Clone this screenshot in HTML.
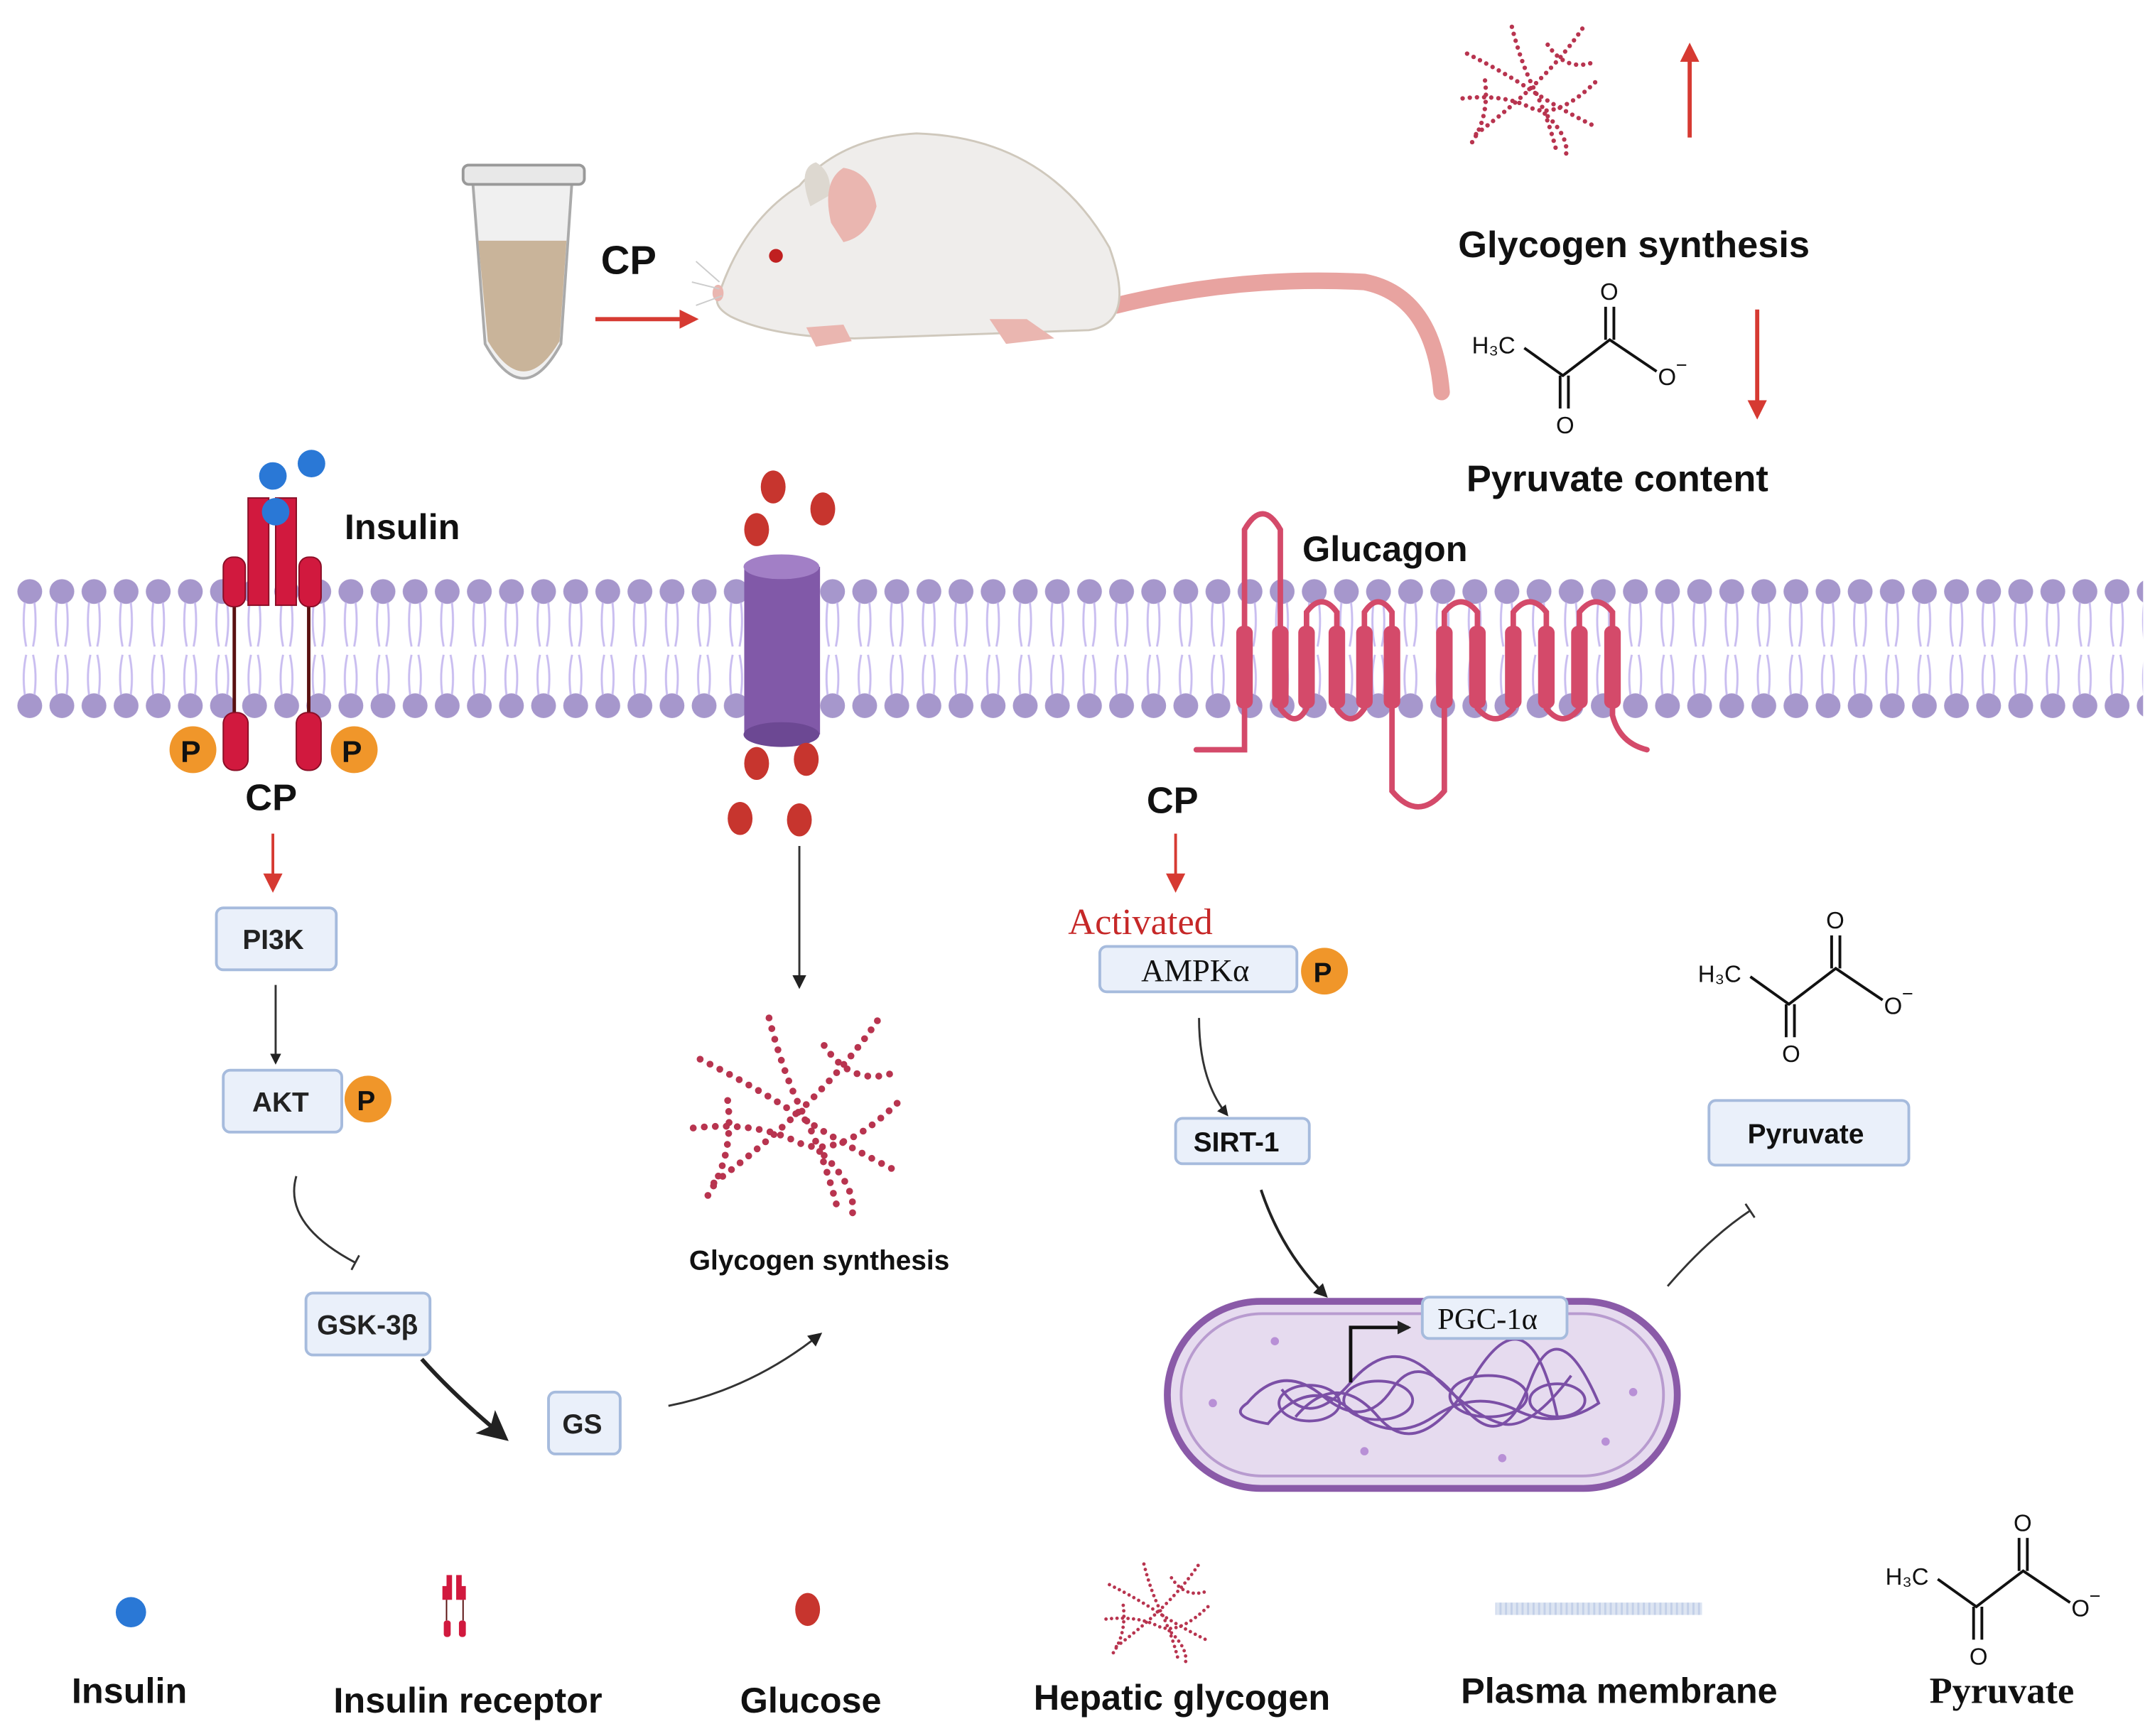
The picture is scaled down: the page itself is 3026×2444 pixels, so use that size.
<!DOCTYPE html>
<html><head><meta charset="utf-8">
<style>
html,body{margin:0;padding:0;background:#fff;}
svg{display:block;}
.b{font-family:"Liberation Sans",sans-serif;font-weight:bold;fill:#111;}
.s{font-family:"Liberation Serif",serif;fill:#111;}
</style></head><body>
<svg width="3026" height="2444" viewBox="0 0 1560 1262" preserveAspectRatio="none" xmlns="http://www.w3.org/2000/svg">
<defs>
<pattern id="mem" x="10" y="410" width="23.3" height="120" patternUnits="userSpaceOnUse">
 <circle cx="11.6" cy="20" r="9" fill="#a697cc"/>
 <circle cx="11.6" cy="103" r="9" fill="#a697cc"/>
 <path d="M8 28 Q6 45 9 60 M15 28 Q17 45 14 60 M8 95 Q6 80 9 66 M15 95 Q17 80 14 66" stroke="#c9bdf0" stroke-width="1.5" fill="none"/>
</pattern>
<pattern id="lm" x="0" y="0" width="4" height="4" patternUnits="userSpaceOnUse"><rect width="4" height="4" fill="#dde5f2"/><rect width="1.5" height="4" fill="#c3d0e8"/></pattern>
<marker id="ar" markerWidth="8" markerHeight="8" refX="6" refY="4" orient="auto" markerUnits="userSpaceOnUse"><path d="M0 0 L8 4 L0 8 Z" fill="#222"/></marker>
<marker id="ar2" markerWidth="10" markerHeight="10" refX="8" refY="5" orient="auto" markerUnits="userSpaceOnUse"><path d="M0 0 L10 5 L0 10 Z" fill="#222"/></marker>
<marker id="arbig" markerWidth="22" markerHeight="22" refX="18" refY="11" orient="auto" markerUnits="userSpaceOnUse"><path d="M0 0 L22 11 L0 22 L5 11 Z" fill="#222"/></marker>
<marker id="rar" markerWidth="14" markerHeight="14" refX="11" refY="7" orient="auto" markerUnits="userSpaceOnUse"><path d="M0 0 L14 7 L0 14 Z" fill="#d63a32"/></marker>
<marker id="tb" markerWidth="2" markerHeight="12" refX="1" refY="6" orient="auto" markerUnits="userSpaceOnUse"><rect x="0" y="0" width="1.5" height="12" fill="#333"/></marker>
<g id="gly" fill="none" stroke="#b8344f" stroke-width="5" stroke-linecap="round" stroke-dasharray="0 8">
 <path d="M-70 -40 Q-30 -20 0 0 T70 40"/>
 <path d="M-60 50 Q-20 20 10 -10 T60 -70"/>
 <path d="M-20 -70 Q-10 -30 5 0 T30 70"/>
 <path d="M-75 10 Q-30 5 0 20 T75 -10"/>
 <path d="M20 -50 Q40 -20 70 -30"/>
 <path d="M-50 -10 Q-45 30 -65 60"/>
 <path d="M20 30 Q45 55 40 75"/>
</g>
<g id="pyr" font-family="Liberation Sans,sans-serif" font-size="17" fill="#111">
 <text x="0" y="42">H₃C</text>
 <path d="M38 38 L66 58 L100 32 L134 55 M64 58 L64 82 M70 58 L70 82 M97 32 L97 8 M103 32 L103 8" stroke="#111" stroke-width="2" fill="none"/>
 <text x="61" y="100">O</text><text x="93" y="3">O</text><text x="135" y="65">O</text><text x="148" y="55" font-size="14">−</text>
</g>
</defs>

<!-- membrane -->
<rect x="10" y="410" width="1545" height="120" fill="url(#mem)"/>

<!-- tube -->
<path d="M343 132 L415 132 L407 250 Q380 300 352 250 Z" fill="#f0f0f0" stroke="#aaa" stroke-width="2"/>
<path d="M347 175 L411 175 L406 248 Q380 292 354 248 Z" fill="#c9b49a"/>
<rect x="336" y="120" width="88" height="14" rx="4" fill="#e8e8e8" stroke="#999" stroke-width="2"/>
<text class="b" x="436" y="199" font-size="29">CP</text>
<line x1="432" y1="232" x2="504" y2="232" stroke="#d63a32" stroke-width="3" marker-end="url(#rar)"/>

<!-- mouse -->
<path d="M810 222 Q900 200 990 205 Q1040 215 1046 285" fill="none" stroke="#e8a3a0" stroke-width="12" stroke-linecap="round"/>
<path d="M522 213 Q540 160 580 135 Q610 100 665 97 Q760 100 805 180 Q825 235 790 240 L620 246 Q560 245 530 230 Q516 222 522 213 Z" fill="#efedeb" stroke="#cfc8bc" stroke-width="1.5"/>
<path d="M588 150 Q578 122 592 118 Q604 125 602 142 Z" fill="#ddd8d0"/>
<path d="M603 162 Q596 132 612 122 Q632 125 636 150 Q630 172 612 176 Z" fill="#eab6b0"/>
<circle cx="563" cy="186" r="5" fill="#c02020"/>
<path d="M585 238 L592 252 L618 248 L612 236 Z M718 232 L730 250 L765 246 L745 232 Z" fill="#eab6b0"/>
<ellipse cx="521" cy="213" rx="4" ry="6" fill="#eab6b0"/>
<path d="M522 205 L505 190 M522 210 L502 205 M524 215 L505 222" stroke="#ccc" stroke-width="1"/>

<!-- top right -->
<use href="#gly" transform="translate(1110,65) scale(0.65)"/>
<line x1="1226" y1="100" x2="1226" y2="34" stroke="#d63a32" stroke-width="3" marker-end="url(#rar)"/>
<text class="b" x="1058" y="187" font-size="27">Glycogen synthesis</text>
<use href="#pyr" transform="translate(1068,215)"/>
<line x1="1275" y1="225" x2="1275" y2="302" stroke="#d63a32" stroke-width="3" marker-end="url(#rar)"/>
<text class="b" x="1064" y="357" font-size="27">Pyruvate content</text>

<!-- insulin receptor -->
<line x1="170" y1="438" x2="170" y2="520" stroke="#5a1010" stroke-width="2.5"/>
<line x1="224" y1="438" x2="224" y2="520" stroke="#5a1010" stroke-width="2.5"/>
<rect x="180" y="362" width="15" height="78" fill="#d1193e" stroke="#8a0e26"/>
<rect x="200" y="362" width="15" height="78" fill="#d1193e" stroke="#8a0e26"/>
<rect x="162" y="405" width="16" height="36" rx="7" fill="#d1193e" stroke="#8a0e26"/>
<rect x="217" y="405" width="16" height="36" rx="7" fill="#d1193e" stroke="#8a0e26"/>
<rect x="162" y="518" width="18" height="42" rx="8" fill="#d1193e" stroke="#8a0e26"/>
<rect x="215" y="518" width="18" height="42" rx="8" fill="#d1193e" stroke="#8a0e26"/>
<circle cx="198" cy="346" r="10" fill="#2a78d6"/><circle cx="226" cy="337" r="10" fill="#2a78d6"/><circle cx="200" cy="372" r="10" fill="#2a78d6"/>
<text class="b" x="250" y="392" font-size="26">Insulin</text>
<circle cx="140" cy="545" r="17" fill="#f0962a"/><text class="b" x="131" y="554" font-size="22">P</text>
<circle cx="257" cy="545" r="17" fill="#f0962a"/><text class="b" x="248" y="554" font-size="22">P</text>
<text class="b" x="178" y="589" font-size="27">CP</text>
<line x1="198" y1="606" x2="198" y2="646" stroke="#d63a32" stroke-width="2" marker-end="url(#rar)"/>

<!-- boxes left -->
<g font-family="Liberation Sans,sans-serif" font-weight="bold" font-size="20" fill="#222">
<rect x="157" y="660" width="87" height="45" rx="5" fill="#eaf0fa" stroke="#a6bbdd" stroke-width="2"/><text x="176" y="690">PI3K</text>
<rect x="162" y="778" width="86" height="45" rx="5" fill="#eaf0fa" stroke="#a6bbdd" stroke-width="2"/><text x="183" y="808">AKT</text>
<rect x="222" y="940" width="90" height="45" rx="5" fill="#eaf0fa" stroke="#a6bbdd" stroke-width="2"/><text x="230" y="970">GSK-3β</text>
<rect x="398" y="1012" width="52" height="45" rx="5" fill="#eaf0fa" stroke="#a6bbdd" stroke-width="2"/><text x="408" y="1042">GS</text>
</g>
<circle cx="267" cy="799" r="17" fill="#f0962a"/><text class="b" x="259" y="807" font-size="20">P</text>
<line x1="200" y1="716" x2="200" y2="772" stroke="#333" stroke-width="1.5" marker-end="url(#ar)"/>
<path d="M215 855 Q205 890 258 918" fill="none" stroke="#333" stroke-width="1.5" marker-end="url(#tb)"/>
<path d="M306 988 Q330 1015 366 1045" fill="none" stroke="#222" stroke-width="3" marker-end="url(#arbig)"/>
<path d="M485 1022 Q545 1010 595 970" fill="none" stroke="#333" stroke-width="1.5" marker-end="url(#ar2)"/>

<!-- glucose channel -->
<rect x="540" y="412" width="55" height="122" fill="#8159a8"/>
<ellipse cx="567" cy="534" rx="27.5" ry="9" fill="#6c4893"/>
<ellipse cx="567" cy="412" rx="27.5" ry="9" fill="#a27fc6"/>
<g fill="#c7352e">
<ellipse cx="561" cy="354" rx="9" ry="12"/><ellipse cx="597" cy="370" rx="9" ry="12"/><ellipse cx="549" cy="385" rx="9" ry="12"/>
<ellipse cx="549" cy="555" rx="9" ry="12"/><ellipse cx="585" cy="552" rx="9" ry="12"/><ellipse cx="537" cy="595" rx="9" ry="12"/><ellipse cx="580" cy="596" rx="9" ry="12"/>
</g>
<line x1="580" y1="615" x2="580" y2="717" stroke="#333" stroke-width="1.5" marker-end="url(#ar2)"/>
<use href="#gly" transform="translate(578,810) scale(1)"/>
<text class="b" x="500" y="923" font-size="20">Glycogen synthesis</text>

<!-- glucagon receptor -->
<g fill="none" stroke="#d44a6a" stroke-width="4" stroke-linecap="round">
<path d="M868 545 L903 545 L903 385 Q916 362 929 385 L929 515 Q940 530 948 515 L948 445 Q959 430 970 445 L970 515 Q980 530 990 515 L990 445 Q1000 430 1010 445 L1010 575 Q1029 598 1048 575 L1048 445 Q1060 430 1072 445 L1072 515 Q1085 530 1098 515 L1098 445 Q1110 430 1122 445 L1122 515 Q1134 530 1146 515 L1146 445 Q1158 430 1170 445 L1170 520 Q1175 540 1195 545"/>
</g>
<g fill="#d44a6a">
<rect x="897" y="455" width="12" height="60" rx="5"/><rect x="923" y="455" width="12" height="60" rx="5"/><rect x="942" y="455" width="12" height="60" rx="5"/><rect x="964" y="455" width="12" height="60" rx="5"/><rect x="984" y="455" width="12" height="60" rx="5"/><rect x="1004" y="455" width="12" height="60" rx="5"/>
<rect x="1042" y="455" width="12" height="60" rx="5"/><rect x="1066" y="455" width="12" height="60" rx="5"/><rect x="1092" y="455" width="12" height="60" rx="5"/><rect x="1116" y="455" width="12" height="60" rx="5"/><rect x="1140" y="455" width="12" height="60" rx="5"/><rect x="1164" y="455" width="12" height="60" rx="5"/>
</g>
<text class="b" x="945" y="408" font-size="26">Glucagon</text>

<!-- right pathway -->
<text class="b" x="832" y="591" font-size="27">CP</text>
<line x1="853" y1="606" x2="853" y2="646" stroke="#d63a32" stroke-width="2" marker-end="url(#rar)"/>
<text class="s" x="775" y="679" font-size="27" style="fill:#c62828">Activated</text>
<rect x="798" y="688" width="143" height="33" rx="5" fill="#eaf0fa" stroke="#a6bbdd" stroke-width="2"/>
<text class="s" x="828" y="713" font-size="23">AMPKα</text>
<circle cx="961" cy="706" r="17" fill="#f0962a"/><text class="b" x="953" y="714" font-size="20">P</text>
<path d="M870 740 Q870 785 890 810" fill="none" stroke="#333" stroke-width="1.5" marker-end="url(#ar)"/>
<rect x="853" y="813" width="97" height="33" rx="5" fill="#eaf0fa" stroke="#a6bbdd" stroke-width="2"/>
<text class="b" x="866" y="837" font-size="20">SIRT-1</text>
<path d="M915 865 Q930 910 962 942" fill="none" stroke="#222" stroke-width="2" marker-end="url(#ar2)"/>

<!-- cell -->
<rect x="847" y="946" width="370" height="136" rx="68" fill="#e6dbef" stroke="#8a5aa8" stroke-width="5"/>
<rect x="857" y="955" width="350" height="118" rx="59" fill="none" stroke="#b89bcf" stroke-width="2"/>
<g fill="none" stroke="#7b4fa6" stroke-width="2">
<path d="M905 1020 Q930 990 960 1015 T1010 1010 T1060 1020 T1110 1005 T1160 1020 Q1130 1040 1100 1025 T1040 1030 T980 1025 T920 1035 Q890 1030 905 1020 Z"/>
<path d="M930 1010 Q950 1040 980 1005 T1040 1000 T1090 1035 T1140 1000"/>
<path d="M940 1030 Q970 995 1000 1030 T1070 1000 T1130 1030"/>
<ellipse cx="1000" cy="1018" rx="25" ry="14"/><ellipse cx="1080" cy="1015" rx="28" ry="15"/><ellipse cx="1130" cy="1018" rx="20" ry="12"/><ellipse cx="950" cy="1020" rx="22" ry="13"/>
</g>
<g fill="#b890d6"><circle cx="880" cy="1020" r="3"/><circle cx="925" cy="975" r="3"/><circle cx="1185" cy="1012" r="3"/><circle cx="1165" cy="1048" r="3"/><circle cx="990" cy="1055" r="3"/><circle cx="1090" cy="1060" r="3"/></g>
<path d="M980 1005 L980 965 L1022 965" fill="none" stroke="#111" stroke-width="2.5" marker-end="url(#ar2)"/>
<rect x="1032" y="943" width="105" height="30" rx="5" fill="#eaf0fa" stroke="#a6bbdd" stroke-width="2"/>
<text class="s" x="1043" y="966" font-size="22">PGC-1α</text>
<path d="M1210 935 Q1240 900 1270 880" fill="none" stroke="#333" stroke-width="1.5" marker-end="url(#tb)"/>
<use href="#pyr" transform="translate(1232,672)"/>
<rect x="1240" y="800" width="145" height="47" rx="5" fill="#eaf0fa" stroke="#a6bbdd" stroke-width="2"/>
<text class="b" x="1268" y="831" font-size="20">Pyruvate</text>

<!-- legend -->
<circle cx="95" cy="1172" r="11" fill="#2a78d6"/>
<g fill="#d1193e"><rect x="324" y="1145" width="4" height="18"/><rect x="331" y="1145" width="4" height="18"/><rect x="321" y="1153" width="4" height="10"/><rect x="334" y="1153" width="4" height="10"/><rect x="322" y="1178" width="5" height="12" rx="2"/><rect x="333" y="1178" width="5" height="12" rx="2"/></g>
<line x1="324" y1="1163" x2="324" y2="1178" stroke="#5a1010"/><line x1="336" y1="1163" x2="336" y2="1178" stroke="#5a1010"/>
<ellipse cx="586" cy="1170" rx="9" ry="12" fill="#c7352e"/>
<use href="#gly" transform="translate(840,1172) scale(0.5)"/>
<rect x="1085" y="1165" width="150" height="9" fill="url(#lm)"/>
<use href="#pyr" transform="translate(1368,1110)"/>
<text class="b" x="52" y="1238" font-size="26">Insulin</text>
<text class="b" x="242" y="1245" font-size="26">Insulin receptor</text>
<text class="b" x="537" y="1245" font-size="26">Glucose</text>
<text class="b" x="750" y="1243" font-size="26">Hepatic glycogen</text>
<text class="b" x="1060" y="1238" font-size="26">Plasma membrane</text>
<text class="s" x="1400" y="1238" font-size="27" font-weight="bold">Pyruvate</text>
</svg>
</body></html>
